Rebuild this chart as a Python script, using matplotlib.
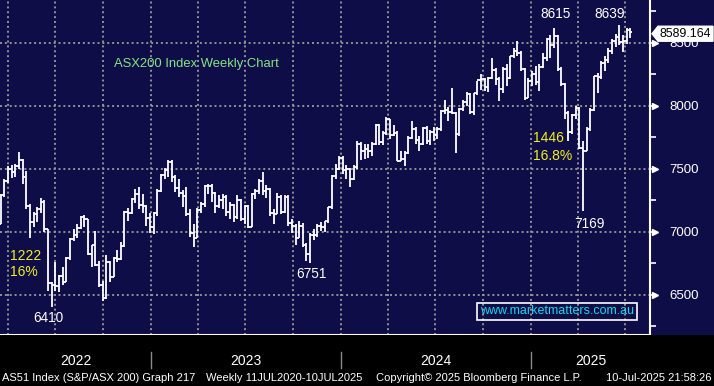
import matplotlib
matplotlib.use('Agg')
import matplotlib.pyplot as plt
import matplotlib.dates as mdates
import matplotlib.transforms as mtransforms
from matplotlib.patches import Rectangle, Polygon
from matplotlib.lines import Line2D
from matplotlib.ticker import NullFormatter, FixedLocator
import numpy as np
import pandas as pd

plt.rcParams['font.family'] = ['Liberation Sans', 'DejaVu Sans']

# ---------------- data (weekly OHLC, ASX200) ----------------
first_week = '2022-03-18'
opens = [7064, 7296, 7406, 7499, 7478, 7523, 7574, 7435, 7205, 7075, 7145, 7182, 7238, 7020, 6591, 6578, 6568, 6648, 6606, 6791, 6945, 6973, 7033, 7115, 7105, 6828, 6894, 6739, 6575, 6474, 6762, 6644, 6791, 6786, 6892, 7158, 7152, 7259, 7301, 7214, 7204, 7107,
         7039, 7151, 7328, 7452, 7493, 7558, 7433, 7347, 7307, 7284, 7144, 6995, 6955, 7178, 7218, 7362, 7366, 7309, 7206, 7255, 7279, 7155, 7217, 7115, 7251, 7099, 7203, 7042, 7303, 7325, 7403, 7325, 7340, 7148, 7145, 7279, 7156, 7279, 7068, 7049, 6955, 7051, 6898, 6828, 6978, 6977, 7050, 7040, 7087, 7195, 7442, 7503,
         7590, 7489, 7498, 7421, 7519, 7699, 7645, 7658, 7643, 7699, 7847, 7714, 7782, 7897, 7773, 7789, 7567, 7575, 7629, 7749, 7814, 7727, 7701, 7822, 7724, 7796, 7768, 7821, 7959, 7971, 7951, 7943, 7778, 7972, 8033, 8092, 7949, 8099, 8209, 8212, 8150, 8219, 8283, 8211, 8134, 8295, 8224, 8393, 8436, 8421, 8296, 8067,
         8200, 8250, 8194, 8310, 8379, 8532, 8481, 8555, 8296, 8172, 7948, 7790, 7931, 7982, 7667, 7646, 7820, 7969, 8238, 8231, 8343, 8361, 8434, 8515, 8548, 8505, 8514, 8603]
highs = [7300, 7420, 7520, 7530, 7540, 7632, 7580, 7480, 7220, 7160, 7200, 7270, 7250, 7020, 6600, 6760, 6660, 6720, 6800, 6950, 7020, 7060, 7130, 7135, 7105, 6900, 7010, 6770, 6610, 6820, 6770, 6800, 6860, 6920, 7170, 7190, 7270, 7340, 7360, 7300, 7210, 7150,
         7160, 7340, 7460, 7510, 7570, 7568, 7450, 7420, 7330, 7360, 7180, 7060, 7190, 7240, 7370, 7380, 7380, 7320, 7290, 7300, 7290, 7240, 7220, 7290, 7260, 7210, 7210, 7310, 7340, 7420, 7475, 7370, 7345, 7180, 7310, 7290, 7290, 7290, 7100, 7060, 7090, 7070, 6910, 6990, 7020, 7060, 7080, 7090, 7200, 7450, 7540, 7600,
         7600, 7530, 7510, 7530, 7720, 7710, 7700, 7700, 7710, 7860, 7860, 7800, 7910, 7900, 7850, 7800, 7640, 7640, 7760, 7880, 7830, 7760, 7830, 7840, 7810, 7830, 7830, 7970, 8050, 7990, 8140, 7950, 7980, 8050, 8110, 8100, 8100, 8200, 8250, 8220, 8230, 8380, 8300, 8230, 8310, 8330, 8400, 8460, 8514, 8440, 8300, 8220,
         8280, 8320, 8330, 8420, 8540, 8560, 8615, 8560, 8310, 8180, 7960, 7940, 8000, 7990, 7720, 7830, 7980, 8240, 8260, 8360, 8400, 8460, 8530, 8570, 8639, 8560, 8620, 8620]
lows = [7060, 7280, 7390, 7430, 7440, 7500, 7380, 7180, 6950, 7040, 7080, 7150, 7000, 6530, 6406, 6530, 6520, 6580, 6600, 6780, 6930, 6950, 7020, 7040, 6820, 6720, 6730, 6560, 6450, 6470, 6600, 6640, 6760, 6780, 6880, 7090, 7140, 7230, 7180, 7150, 7050, 6990,
        6980, 7130, 7320, 7420, 7440, 7400, 7320, 7280, 7200, 7130, 6960, 6880, 6950, 7150, 7200, 7300, 7240, 7150, 7190, 7180, 7130, 7100, 7080, 7100, 7090, 7060, 7030, 7040, 7260, 7300, 7290, 7270, 7130, 7060, 7140, 7140, 7150, 7050, 6990, 6900, 6950, 6880, 6770, 6751, 6940, 6960, 7010, 7000, 7070, 7180, 7420, 7490,
        7460, 7420, 7360, 7410, 7500, 7570, 7580, 7590, 7600, 7690, 7690, 7690, 7770, 7740, 7760, 7560, 7560, 7520, 7620, 7740, 7700, 7640, 7690, 7700, 7690, 7720, 7740, 7800, 7940, 7880, 7940, 7630, 7760, 7960, 8000, 7940, 7930, 8090, 8130, 8120, 8110, 8210, 8170, 8040, 8100, 8160, 8210, 8380, 8400, 8280, 8050, 8060,
        8160, 8170, 8120, 8300, 8360, 8380, 8460, 8280, 8160, 7900, 7720, 7780, 7900, 7660, 7169, 7640, 7800, 7960, 8100, 8210, 8280, 8340, 8410, 8470, 8480, 8430, 8490, 8540]
closes = [7296, 7406, 7499, 7478, 7523, 7574, 7435, 7205, 7075, 7145, 7182, 7238, 7020, 6591, 6578, 6568, 6648, 6606, 6791, 6945, 6973, 7033, 7115, 7105, 6828, 6894, 6739, 6575, 6474, 6762, 6644, 6791, 6786, 6892, 7158, 7152, 7259, 7301, 7214, 7204, 7107, 7039,
          7151, 7328, 7452, 7493, 7558, 7433, 7347, 7307, 7284, 7144, 6995, 6955, 7178, 7218, 7362, 7366, 7309, 7206, 7255, 7279, 7155, 7217, 7115, 7251, 7099, 7203, 7042, 7303, 7325, 7403, 7325, 7340, 7148, 7145, 7279, 7156, 7279, 7068, 7049, 6955, 7051, 6898, 6828, 6978, 6977, 7050, 7040, 7087, 7195, 7442, 7503, 7590,
          7489, 7498, 7421, 7519, 7699, 7645, 7658, 7643, 7699, 7847, 7714, 7782, 7897, 7773, 7789, 7567, 7575, 7629, 7749, 7814, 7727, 7701, 7822, 7724, 7796, 7768, 7821, 7959, 7971, 7951, 7943, 7778, 7972, 8033, 8092, 7949, 8099, 8209, 8212, 8150, 8219, 8283, 8211, 8134, 8295, 8224, 8393, 8436, 8421, 8296, 8067, 8200,
          8250, 8194, 8310, 8379, 8532, 8481, 8555, 8296, 8172, 7948, 7790, 7931, 7982, 7667, 7646, 7820, 7969, 8238, 8231, 8343, 8361, 8434, 8515, 8548, 8505, 8514, 8603, 8589.164]

y_ticks = [6500, 7000, 7500, 8000, 8500]
y_minor = [6250, 6750, 7250, 7750, 8250, 8750]
year_labels = ['2022', '2023', '2024', '2025']
last_price_label = '8589.164'

dates = pd.date_range(first_week, periods=len(closes), freq='W-FRI')

# ---------------- style ----------------
NAVY = '#0f0d47'
GRID = '#9a9a9a'
W, H = 714, 386

fig = plt.figure(figsize=(W / 100, H / 100), dpi=100, facecolor=NAVY)
fig.patches.append(Rectangle((0, 0), 1, 51 / H, transform=fig.transFigure,
                             facecolor='black', edgecolor='none', zorder=0))
ax = fig.add_axes([0, 51 / H, 650 / W, 335 / H])
ax.set_facecolor(NAVY)

x = mdates.date2num(dates)
tk = 3.5
lw = 1.3
ax.vlines(x, lows, highs, color='white', lw=lw, zorder=3)
ax.hlines(opens, x - tk, x, color='white', lw=lw, zorder=3)
ax.hlines(closes, x, x + tk, color='white', lw=lw, zorder=3)

x0 = mdates.date2num(pd.Timestamp('2023-01-01'))
x1 = mdates.date2num(pd.Timestamp('2025-01-01'))
ppd = 380.0 / (x1 - x0)
ax.set_xlim(x0 - 151 / ppd, x1 + 119 / ppd)
ax.set_ylim(6182, 8841)

# grid
for q in pd.date_range('2022-04-01', '2025-07-01', freq='QS'):
    ax.axvline(mdates.date2num(q), color=GRID, lw=1.3, ls=(0, (1.1, 1.6)), zorder=1)
for yv in y_ticks:
    ax.axhline(yv, color=GRID, lw=1.3, ls=(0, (1.1, 1.6)), zorder=1)

for s in ['top', 'left']:
    ax.spines[s].set_visible(False)
for s in ['bottom', 'right']:
    ax.spines[s].set_color('white')
    ax.spines[s].set_linewidth(1.5)

ax.yaxis.tick_right()
ax.yaxis.set_major_locator(FixedLocator(y_ticks))
ax.yaxis.set_minor_locator(FixedLocator(y_minor))
ax.tick_params(axis='y', which='both', direction='out', length=4, width=1.2,
               color='white', labelcolor='white', labelsize=9.5, pad=10)
ax.xaxis.set_major_locator(mdates.MonthLocator())
ax.xaxis.set_major_formatter(NullFormatter())
ax.tick_params(axis='x', which='both', direction='out', length=4, width=1.0, color='white')

trans = mtransforms.blended_transform_factory(ax.transAxes, ax.transData)
tri_tr = mtransforms.offset_copy(trans, fig=fig, x=5, y=0, units='dots')
ax.plot([1.0] * len(y_ticks), y_ticks, ls='none', marker='>', ms=5, color='white',
        mec='white', transform=tri_tr, clip_on=False, zorder=5)


def fx(px):
    return px / W


def fy(py):
    return 1 - py / H


# year labels and separators
fig.canvas.draw()
sep_px = []
for yr in ['2023-01-01', '2024-01-01', '2025-01-01']:
    xd = ax.transData.transform((mdates.date2num(pd.Timestamp(yr)), 7000))[0]
    sep_px.append(xd)
    fig.lines.append(Line2D([xd / W, xd / W], [fy(352), fy(368)], transform=fig.transFigure,
                            color='#8a8a8a', lw=1.0))
bounds = [0] + sep_px + [650]
for i, lab in enumerate(year_labels):
    c = (bounds[i] + bounds[i + 1]) / 2
    fig.text(fx(c), fy(361), lab, color='white', fontsize=10, ha='center', va='center')

# footer
fs = 8.0
fig.text(fx(2), fy(378), 'AS51 Index (S&P/ASX 200) Graph 217', color='white', fontsize=fs, va='center', ha='left')
fig.text(fx(206), fy(378), 'Weekly 11JUL2020-10JUL2025', color='white', fontsize=fs, va='center', ha='left')
fig.text(fx(376), fy(378), 'Copyright\u00a9 2025 Bloomberg Finance L.P.', color='white', fontsize=fs, va='center', ha='left')
fig.text(fx(712), fy(378), '10-Jul-2025 21:58:26', color='white', fontsize=fs, va='center', ha='right')

# annotations
fig.text(fx(114), fy(64), 'ASX200 Index Weekly Chart', color='#86e486', fontsize=9.4, va='center', ha='left')
YEL = '#f0f020'
fig.text(fx(10), fy(256.5), '1222', color=YEL, fontsize=10, va='center', ha='left')
fig.text(fx(10), fy(272), '16%', color=YEL, fontsize=10, va='center', ha='left')
fig.text(fx(533), fy(138.5), '1446', color=YEL, fontsize=10, va='center', ha='left')
fig.text(fx(533), fy(156.5), '16.8%', color=YEL, fontsize=10, va='center', ha='left')
for lab, cx, cy in [('6410', 48.5, 318.5), ('6751', 311, 273.5), ('7169', 589, 224),
                    ('8615', 556, 14.5), ('8639', 610, 14.5)]:
    fig.text(fx(cx), fy(cy), lab, color='white', fontsize=9.8, va='center', ha='center')

# watermark
fig.text(fx(557), fy(311.5), 'www.marketmatters.com.au', color='#1ad6ea', fontsize=9,
         va='center', ha='center',
         bbox=dict(boxstyle='square,pad=0.22', facecolor='none', edgecolor='white', lw=1.2))

# last price tag
py_last = ax.transData.transform((x[-1], closes[-1]))[1]
ty = H - py_last + 2
tag = Polygon([(fx(652), fy(ty)), (fx(658), fy(ty - 7.5)), (fx(713), fy(ty - 7.5)),
               (fx(713), fy(ty + 7.5)), (fx(658), fy(ty + 7.5))], closed=True,
              transform=fig.transFigure, facecolor='white', edgecolor='white', zorder=10)
fig.patches.append(tag)
fig.text(fx(685.5), fy(ty), last_price_label, color='black', fontsize=8.9, va='center', ha='center', zorder=11)

fig.savefig('out.png', dpi=100, facecolor=fig.get_facecolor())
